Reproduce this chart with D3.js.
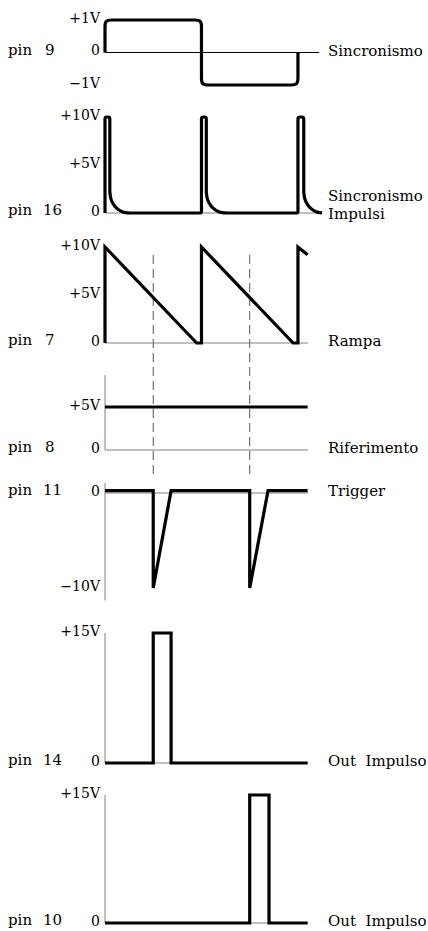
<!DOCTYPE html>
<html>
<head>
<meta charset="utf-8">
<script src="https://cdn.jsdelivr.net/npm/d3@7"></script>
<style>
  body { margin: 0; background: #fff; }
  text { font-family: "DejaVu Serif", serif; fill: #000; }
</style>
</head>
<body>
<svg id="chart" width="428" height="931"></svg>
<script>
// time in ms, voltages in V
var timeDomain = [0, 21];
var triggerTimes = [5, 15];

var pin9 = [[0, 0], [0, 1], [10, 1], [10, -1], [20, -1], [20, 0]];
var pin16 = [
  [0, 0], [0, 10], [0.5, 10], [0.5, 2.2], [0.57, 1.6], [0.75, 1.1], [1.05, 0.65], [1.45, 0.3], [1.9, 0.08], [2.4, 0],
  [10, 0], [10, 10], [10.5, 10], [10.5, 2.2], [10.57, 1.6], [10.75, 1.1], [11.05, 0.65], [11.45, 0.3], [11.9, 0.08], [12.4, 0],
  [20, 0], [20, 10], [20.6, 10], [20.6, 2.2], [20.67, 1.6], [20.85, 1.1], [21.15, 0.65], [21.55, 0.3], [22, 0.08], [22.5, 0]
];
var pin7 = [[0, 0], [0, 10], [9.5, 0], [10, 0], [10, 10], [19.5, 0], [20, 0], [20, 10], [21, 9.2]];
var pin8 = [[0, 5], [21, 5]];
var pin11 = [[0, 0.25], [5, 0.25], [5, -10], [6.85, 0.25], [15, 0.25], [15, -10], [16.9, 0.25], [21, 0.25]];
var pin14 = [[0, 0], [5, 0], [5, 15], [6.85, 15], [6.85, 0], [21, 0]];
var pin10 = [[0, 0], [15, 0], [15, 15], [17, 15], [17, 0], [21, 0]];

var pinNames = ["9", "16", "7", "8", "11", "14", "10"];
var signalNames = [["Sincronismo"], ["Sincronismo", "Impulsi"], ["Rampa"], ["Riferimento"],
                   ["Trigger"], ["Out  Impulso"], ["Out  Impulso"]];
var voltDomains = [[-1, 1], [0, 10], [0, 10], [0, 5], [-10, 0], [0, 15], [0, 15]];
var tickLabels = [
  [[1, "+1V"], [0, "0"], [-1, "\u22121V"]],
  [[10, "+10V"], [5, "+5V"], [0, "0"]],
  [[10, "+10V"], [5, "+5V"], [0, "0"]],
  [[5, "+5V"], [0, "0"]],
  [[0, "0"], [-10, "\u221210V"]],
  [[15, "+15V"], [0, "0"]],
  [[15, "+15V"], [0, "0"]]
];
var series = [pin9, pin16, pin7, pin8, pin11, pin14, pin10];

// layout of each strip
var pixelRanges = [[85, 20], [213, 117], [343, 247], [450, 407], [588, 493], [763, 633], [923, 795]];
var axisExtents = [null, null, null, [0, 8.7], [-11.3, 1.05], [0, 15], [0, 15]];
var baseEnds = [22.2, 22.3, 21.05, 21.05, 21.05, 21.05, 21.05];
var cornerRadius = [8, 2.5, 0, 0, 0, 0, 0];

var svg = d3.select("#chart");
var x = d3.scaleLinear().domain(timeDomain).range([105, 307.6]);

// rounded corners: pad each vertex with tripled points for curveBasis
function rounded(pts, r) {
  var out = [pts[0], pts[0], pts[0]];
  for (var i = 1; i < pts.length - 1; i++) {
    var p = pts[i], a = pts[i - 1], b = pts[i + 1];
    var la = Math.hypot(a[0] - p[0], a[1] - p[1]),
        lb = Math.hypot(b[0] - p[0], b[1] - p[1]);
    if (la === 0 || lb === 0) continue;
    var da = Math.min(r, la / 2), db = Math.min(r, lb / 2);
    var q1 = [p[0] + (a[0] - p[0]) * da / la, p[1] + (a[1] - p[1]) * da / la];
    var q2 = [p[0] + (b[0] - p[0]) * db / lb, p[1] + (b[1] - p[1]) * db / lb];
    out.push(q1, q1, q1, p, q2, q2, q2);
  }
  var e = pts[pts.length - 1];
  out.push(e, e, e);
  return out;
}

// dashed markers at trigger times
svg.selectAll(".marker")
  .data(triggerTimes)
  .enter().append("line")
    .attr("class", "marker")
    .attr("x1", function(d) { return x(d); })
    .attr("x2", function(d) { return x(d); })
    .attr("y1", 255)
    .attr("y2", 474)
    .attr("stroke", "#555")
    .attr("stroke-width", 1)
    .attr("stroke-dasharray", "9,5");

series.forEach(function(data, i) {
  var y = d3.scaleLinear().domain(voltDomains[i]).range(pixelRanges[i]);
  var g = svg.append("g");

  if (axisExtents[i]) {
    g.append("line")
      .attr("x1", x(0)).attr("x2", x(0))
      .attr("y1", y(axisExtents[i][0])).attr("y2", y(axisExtents[i][1]))
      .attr("stroke", "#808080").attr("stroke-width", 1);
  }

  g.append("line")
    .attr("x1", x(0)).attr("x2", x(baseEnds[i]))
    .attr("y1", y(0)).attr("y2", y(0))
    .attr("stroke", i === 0 ? "#000" : "#808080")
    .attr("stroke-width", 1);

  var pts = data.map(function(d) { return [x(d[0]), y(d[1])]; });
  var r = cornerRadius[i];
  var line = r ? d3.line().curve(d3.curveBasis) : d3.line();
  g.append("path")
    .attr("d", line(r ? rounded(pts, r) : pts))
    .attr("fill", "none")
    .attr("stroke", "#000")
    .attr("stroke-width", 3.2)
    .attr("stroke-linejoin", "miter");

  g.selectAll(".tick")
    .data(tickLabels[i])
    .enter().append("text")
      .attr("class", "tick")
      .attr("x", 100)
      .attr("y", function(d) { return y(d[0]) - 2; })
      .attr("dy", "0.35em")
      .attr("text-anchor", "end")
      .style("font-size", "14px")
      .text(function(d) { return d[1]; });

  g.append("text")
    .attr("x", 8).attr("y", y(0) - 3).attr("dy", "0.35em")
    .style("font-size", "15px")
    .text("pin");
  g.append("text")
    .attr("x", pinNames[i].length > 1 ? 43 : 45).attr("y", y(0) - 3).attr("dy", "0.35em")
    .style("font-size", "15px")
    .text(pinNames[i]);

  var names = signalNames[i];
  g.selectAll(".name")
    .data(names)
    .enter().append("text")
      .attr("class", "name")
      .attr("x", 328)
      .attr("y", function(d, k) { return names.length > 1 ? y(0) - 17 + k * 18 : y(0) - 2; })
      .attr("dy", "0.35em")
      .style("font-size", "15px")
      .style("white-space", "pre")
      .attr("xml:space", "preserve")
      .text(function(d) { return d; });
});
</script>
</body>
</html>
